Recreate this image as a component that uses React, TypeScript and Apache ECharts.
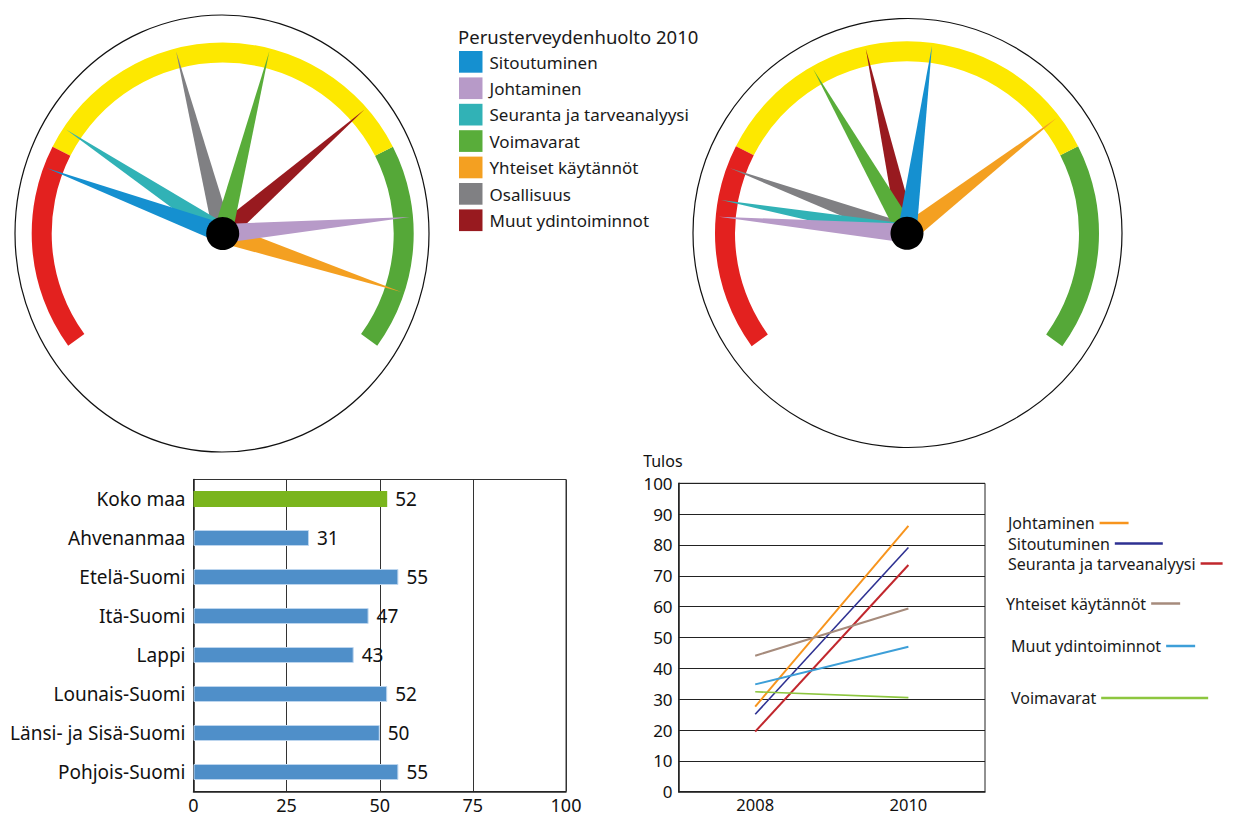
import React, { useEffect, useRef } from 'react';
import * as echarts from 'echarts';

const FONT = '"Noto Sans", "Open Sans", sans-serif';

// ---- Gauges ----
const gaugeTitle = 'Perusterveydenhuolto 2010';
const gaugeNames = [
  'Sitoutuminen',
  'Johtaminen',
  'Seuranta ja tarveanalyysi',
  'Voimavarat',
  'Yhteiset käytännöt',
  'Osallisuus',
  'Muut ydintoiminnot',
];
const gaugeColors = ['#1590d0', '#b79ac8', '#31b2b6', '#59ad3a', '#f4a021', '#808083', '#981a1f'];
const gaugeLeftValues = [22.4, 83.7, 27.6, 55.7, 92.9, 44.3, 69.4];
const gaugeRightValues = [53.0, 16.3, 18.3, 38.2, 70.8, 22.3, 45.0];
const gaugeBandStops = [0.25, 0.75, 1];
const gaugeBandColors = ['#e3211f', '#fde800', '#55a838'];

// ---- Bar chart ----
const regions = [
  'Koko maa',
  'Ahvenanmaa',
  'Etelä-Suomi',
  'Itä-Suomi',
  'Lappi',
  'Lounais-Suomi',
  'Länsi- ja Sisä-Suomi',
  'Pohjois-Suomi',
];
const regionValues = [52, 31, 55, 47, 43, 52, 50, 55];

// ---- Line chart ----
const years = ['2008', '2010'];
const lineNames = [
  'Johtaminen',
  'Sitoutuminen',
  'Seuranta ja tarveanalyysi',
  'Yhteiset käytännöt',
  'Muut ydintoiminnot',
  'Voimavarat',
];
const lineColors = ['#f7941d', '#2e3192', '#c1272d', '#a68b7c', '#3d9fd8', '#8dc63f'];
const line2008 = [27.6, 25.1, 19.5, 44.1, 34.8, 32.4];
const line2010 = [86.2, 79.2, 73.5, 59.4, 47.0, 30.5];

// label layout beside the line chart (text left, vertical centre, marker length)
const lineLabelLayout = [
  { left: 1008, cy: 523, w: 29 },
  { left: 1008, cy: 543.5, w: 48 },
  { left: 1008, cy: 563.5, w: 22 },
  { left: 1006, cy: 603.5, w: 29 },
  { left: 1011, cy: 646, w: 29 },
  { left: 1011, cy: 698, w: 107 },
];

function gaugeSeries(values: number[], center: number[], radius: number) {
  const order = [6, 5, 4, 3, 2, 1, 0];
  return {
    type: 'gauge',
    center,
    radius,
    startAngle: 216,
    endAngle: -36,
    min: 0,
    max: 100,
    axisLine: {
      lineStyle: {
        width: 20,
        color: gaugeBandStops.map((s, i) => [s, gaugeBandColors[i]]),
      },
    },
    splitLine: { show: false },
    axisTick: { show: false },
    axisLabel: { show: false },
    pointer: { icon: 'triangle', length: radius - 3, width: 19 },
    anchor: { show: true, showAbove: true, size: 33, itemStyle: { color: '#000' } },
    title: { show: false },
    detail: { show: false },
    data: order.map((i) => ({
      name: gaugeNames[i],
      value: values[i],
      itemStyle: { color: gaugeColors[i] },
    })),
  };
}

export default function App() {
  const ref = useRef<HTMLDivElement>(null);

  useEffect(() => {
    document.body.style.margin = '0';
    if (!ref.current) return;
    const chart = echarts.init(ref.current, null, { renderer: 'svg' });

    const legendGraphics: any[] = [
      {
        type: 'text',
        x: 458,
        y: 36,
        style: {
          text: gaugeTitle,
          fontSize: 18.5,
          fontFamily: FONT,
          fill: '#1a1a1a',
          verticalAlign: 'middle',
        },
      },
    ];
    gaugeNames.forEach((n, i) => {
      legendGraphics.push({
        type: 'rect',
        shape: { x: 459, y: 51 + i * 26.4, width: 23.5, height: 21.7 },
        style: { fill: gaugeColors[i] },
      });
      legendGraphics.push({
        type: 'text',
        x: 489.5,
        y: 62 + i * 26.4,
        style: {
          text: n,
          fontSize: 17,
          fontFamily: FONT,
          fill: '#1a1a1a',
          verticalAlign: 'middle',
        },
      });
    });

    const option: any = {
      animation: false,
      backgroundColor: '#fff',
      textStyle: { fontFamily: FONT },
      graphic: [
        {
          type: 'ellipse',
          shape: { cx: 222, cy: 233.5, rx: 207, ry: 218.5 },
          style: { fill: 'none', stroke: '#111', lineWidth: 1.2 },
        },
        {
          type: 'circle',
          shape: { cx: 907.5, cy: 233, r: 214.5 },
          style: { fill: 'none', stroke: '#111', lineWidth: 1.2 },
        },
        ...legendGraphics,
      ],
      legend: lineNames.map((n, i) => ({
        data: [n],
        left: lineLabelLayout[i].left,
        top: lineLabelLayout[i].cy - 8,
        padding: 0,
        align: 'right',
        icon: 'rect',
        itemWidth: lineLabelLayout[i].w,
        itemHeight: 2.5,
        selectedMode: false,
        textStyle: { fontSize: 16, fontFamily: FONT, color: '#1a1a1a' },
      })),
      grid: [
        { left: 193.5, right: 667, top: 479.5, bottom: 24.5, show: true, borderColor: '#333', borderWidth: 1, containLabel: false },
        { left: 678.6, right: 248, top: 483.3, bottom: 24.3, show: true, borderColor: '#222', borderWidth: 1, containLabel: false },
      ],
      xAxis: [
        {
          gridIndex: 0,
          type: 'value',
          min: 0,
          max: 100,
          interval: 25,
          axisLine: { show: true, lineStyle: { color: '#222', width: 1.5 } },
          axisTick: { show: false },
          splitLine: { show: true, lineStyle: { color: '#333', width: 1 } },
          axisLabel: { fontSize: 18, color: '#111', margin: 4, fontFamily: FONT },
        },
        {
          gridIndex: 1,
          type: 'category',
          data: years,
          boundaryGap: true,
          axisLine: { show: true, lineStyle: { color: '#222', width: 1.5 } },
          axisTick: { show: false },
          splitLine: { show: false },
          axisLabel: { fontSize: 16.5, color: '#111', margin: 4, fontFamily: FONT },
        },
      ],
      yAxis: [
        {
          gridIndex: 0,
          type: 'category',
          data: regions,
          inverse: true,
          axisLine: { show: true, lineStyle: { color: '#222', width: 1.5 } },
          axisTick: { show: false },
          splitLine: { show: false },
          axisLabel: { fontSize: 19, color: '#111', margin: 8, fontFamily: FONT },
        },
        {
          gridIndex: 1,
          type: 'value',
          min: 0,
          max: 100,
          interval: 10,
          name: 'Tulos',
          nameLocation: 'end',
          nameGap: 14,
          nameTextStyle: { fontSize: 16, color: '#111', align: 'right', fontFamily: FONT, padding: [0, -4, 0, 0] },
          axisLine: { show: true, lineStyle: { color: '#222', width: 1.5 } },
          axisTick: { show: false },
          splitLine: { show: true, lineStyle: { color: '#222', width: 1 } },
          axisLabel: { fontSize: 17, color: '#111', margin: 6, fontFamily: FONT },
        },
      ],
      series: [
        gaugeSeries(gaugeLeftValues, [222.7, 233.5], 191),
        gaugeSeries(gaugeRightValues, [907, 233.3], 192),
        {
          type: 'bar',
          xAxisIndex: 0,
          yAxisIndex: 0,
          barWidth: 16,
          data: regionValues.map((v, i) => ({
            value: v,
            itemStyle:
              i === 0
                ? { color: '#7ab51d' }
                : { color: '#4f8fc9', borderColor: '#bcd5ee', borderWidth: 1 },
          })),
          label: {
            show: true,
            position: 'right',
            distance: 8,
            fontSize: 19,
            color: '#111',
            fontFamily: FONT,
          },
        },
        ...lineNames.map((n, i) => ({
          type: 'line',
          name: n,
          xAxisIndex: 1,
          yAxisIndex: 1,
          data: [line2008[i], line2010[i]],
          symbol: 'none',
          color: lineColors[i],
          itemStyle: { color: lineColors[i] },
          lineStyle: { color: lineColors[i], width: i === 1 || i === 5 ? 1.6 : 2 },
        })),
      ],
    };

    chart.setOption(option);
    return () => chart.dispose();
  }, []);

  return <div ref={ref} style={{ width: 1233, height: 816 }} />;
}
